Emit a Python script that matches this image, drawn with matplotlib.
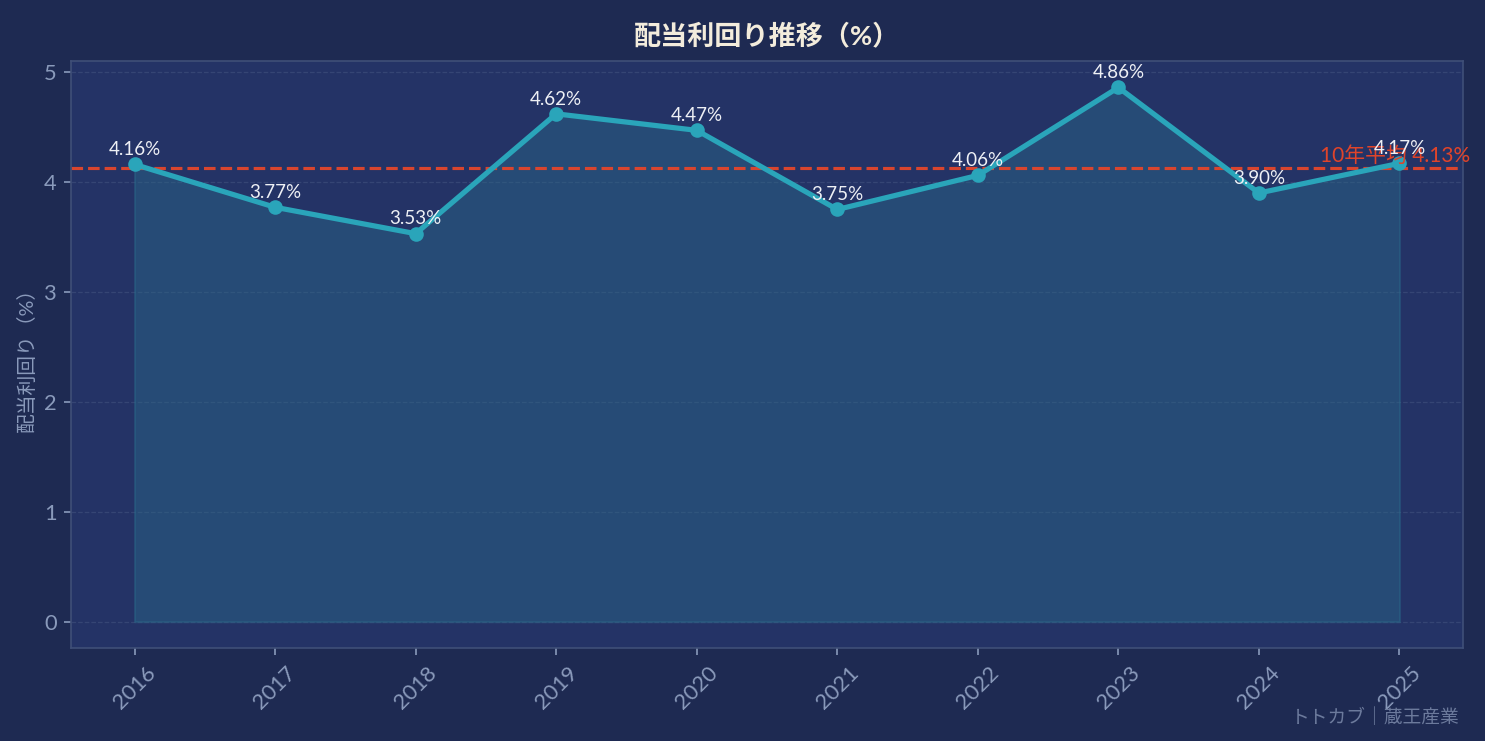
import matplotlib
matplotlib.use("Agg")
from matplotlib import pyplot as plt
import numpy as np

plt.rcParams['font.family'] = ['Lato', 'Noto Sans CJK JP', 'DejaVu Sans']

# data
years = ['2016', '2017', '2018', '2019', '2020', '2021', '2022', '2023', '2024', '2025']
yields = [4.16, 3.77, 3.53, 4.62, 4.47, 3.75, 4.06, 4.86, 3.90, 4.17]
avg_yield = 4.13

fig_bg = '#1e2a52'
ax_bg = '#243366'
line_c = '#2aa5ba'
tick_c = '#8a9abb'

fig, ax = plt.subplots(figsize=(9.9, 4.94), dpi=150)
fig.patch.set_facecolor(fig_bg)
ax.set_facecolor(ax_bg)

x = np.arange(len(years))
ax.fill_between(x, yields, 0, color='#2a6a8a', alpha=0.45, edgecolor='#2a6a8a', linewidth=1)
ax.plot(x, yields, color=line_c, linewidth=2.5, marker='o', markersize=6, zorder=3)

for i, v in enumerate(yields):
    ax.annotate(f'{v:.2f}%', (i, v), xytext=(0, 3), textcoords='offset points',
                ha='center', va='bottom', fontsize=9, color='#eef0f5', zorder=4)

ax.axhline(avg_yield, color='#d9452e', linestyle='--', linewidth=1.5, zorder=2)
ax.text(len(years) - 0.5, avg_yield + 0.02, f'10年平均 {avg_yield:.2f}%', ha='right', va='bottom',
        fontsize=10, color='#e0442a')

ax.set_xticks(x)
ax.set_xticklabels(years, rotation=45)
ax.tick_params(colors=tick_c, labelsize=10.5)
for lbl in ax.get_xticklabels() + ax.get_yticklabels():
    lbl.set_color(tick_c)
ax.set_yticks([0, 1, 2, 3, 4, 5])

ax.grid(axis='y', linestyle='--', linewidth=0.6, color='#3a4a78', alpha=0.8)
ax.set_axisbelow(True)
for s in ax.spines.values():
    s.set_color('#3f4f78')

ax.set_ylabel('配当利回り（%）', color=tick_c, fontsize=9.5)
ax.set_title('配当利回り推移（%）', color='#f3ecdc', fontsize=13, fontweight='bold', pad=8)

fig.text(0.983, 0.02, 'トトカブ｜蔵王産業', ha='right', va='bottom', fontsize=9, color='#6c7a9c')

fig.subplots_adjust(left=0.048, right=0.985, top=0.918, bottom=0.125)
fig.savefig('out.png', dpi=150, facecolor=fig_bg)
